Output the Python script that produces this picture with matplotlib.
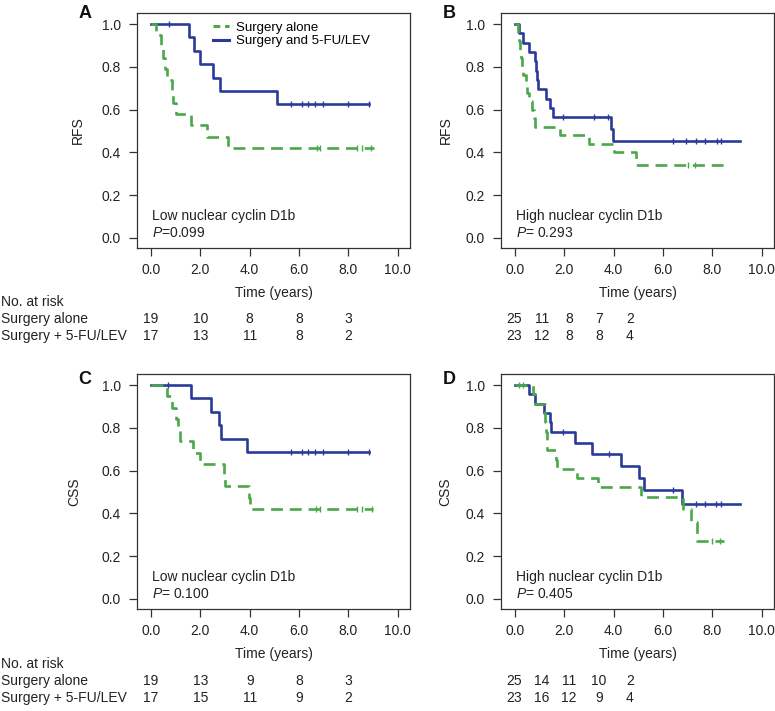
import numpy as np
import matplotlib
matplotlib.use("Agg")
import matplotlib.pyplot as plt
from matplotlib.lines import Line2D
from matplotlib.transforms import blended_transform_factory

plt.rcParams['font.family'] = ['Liberation Sans', 'DejaVu Sans']
plt.rcParams['mathtext.fontset'] = 'custom'
plt.rcParams['mathtext.it'] = 'Liberation Sans:italic'
plt.rcParams['mathtext.rm'] = 'Liberation Sans'

GREEN = '#4aa84a'
BLUE = '#2b3a98'
INK = '#222222'

# ---- Panel A: RFS, low nuclear cyclin D1b ----
a_alone_t = [0.2, 0.39, 0.5, 0.57, 0.65, 0.84, 0.9, 1.01, 1.61, 2.26, 3.14]
a_alone_s = [0.947, 0.895, 0.842, 0.789, 0.737, 0.684, 0.632, 0.579, 0.526, 0.474, 0.421]
a_alone_cens = [6.72, 6.86, 8.34, 8.55, 8.9]
a_alone_end = 9.02
a_combo_t = [1.55, 1.74, 2.0, 2.53, 2.8, 5.1]
a_combo_s = [0.938, 0.875, 0.813, 0.75, 0.688, 0.625]
a_combo_cens = [0.72, 5.67, 6.11, 6.38, 6.65, 6.99, 8.0, 8.82]
a_combo_end = 8.82

# ---- Panel B: RFS, high nuclear cyclin D1b ----
b_alone_t = [0.12, 0.17, 0.22, 0.26, 0.3, 0.34, 0.45, 0.5, 0.55, 0.7, 0.75, 0.8, 1.82, 3.0, 4.0, 4.92]
b_alone_s = [0.96, 0.92, 0.88, 0.84, 0.80, 0.76, 0.72, 0.68, 0.64, 0.60, 0.56, 0.52, 0.48, 0.44, 0.40, 0.343]
b_alone_cens = [7.0, 7.28]
b_alone_end = 8.47
b_combo_t = [0.15, 0.34, 0.56, 0.79, 0.84, 0.88, 0.93, 1.27, 1.41, 1.54, 3.9, 3.98]
b_combo_s = [0.957, 0.913, 0.870, 0.826, 0.783, 0.739, 0.696, 0.652, 0.609, 0.565, 0.509, 0.452]
b_combo_cens = [1.94, 3.22, 3.78, 6.4, 6.95, 7.35, 7.7, 8.17, 8.37]
b_combo_end = 9.12

# ---- Panel C: CSS, low nuclear cyclin D1b ----
c_alone_t = [0.66, 0.85, 1.01, 1.1, 1.18, 1.72, 2.0, 2.95, 2.99, 3.96, 4.0]
c_alone_s = [0.947, 0.895, 0.842, 0.789, 0.737, 0.684, 0.632, 0.579, 0.526, 0.474, 0.421]
c_alone_cens = [6.67, 6.87, 8.35, 8.55, 8.95]
c_alone_end = 9.0
c_combo_t = [1.62, 2.43, 2.76, 2.84, 3.91]
c_combo_s = [0.938, 0.875, 0.813, 0.75, 0.688]
c_combo_cens = [0.7, 5.67, 6.11, 6.38, 6.65, 6.99, 8.0, 8.84]
c_combo_end = 8.84

# ---- Panel D: CSS, high nuclear cyclin D1b ----
d_alone_t = [0.72, 0.8, 1.2, 1.22, 1.26, 1.28, 1.3, 1.67, 1.7, 2.5, 3.38, 5.12, 6.8, 7.15, 7.38]
d_alone_s = [0.957, 0.913, 0.870, 0.826, 0.783, 0.739, 0.696, 0.652, 0.609, 0.565, 0.522, 0.478, 0.42, 0.358, 0.27]
d_alone_cens = [0.14, 0.31, 8.0, 8.3]
d_alone_end = 8.46
d_combo_t = [0.58, 0.79, 1.17, 1.40, 1.47, 2.42, 3.12, 4.3, 5.02, 5.22, 6.75]
d_combo_s = [0.957, 0.913, 0.870, 0.826, 0.783, 0.73, 0.678, 0.62, 0.565, 0.51, 0.445]
d_combo_cens = [1.95, 3.8, 6.39, 7.35, 7.7, 8.15, 8.35]
d_combo_end = 9.12

# numbers at risk
risk_a = ([19, 10, 8, 8, 3], [17, 13, 11, 8, 2])
risk_b = ([25, 11, 8, 7, 2], [23, 12, 8, 8, 4])
risk_c = ([19, 13, 9, 8, 3], [17, 15, 11, 9, 2])
risk_d = ([25, 14, 11, 10, 2], [23, 16, 12, 9, 4])

xticks = [0, 2, 4, 6, 8, 10]
yticks = [0.0, 0.2, 0.4, 0.6, 0.8, 1.0]

W, H = 775, 711


def draw_km(ax, t, s, cens, end, color, dashed):
    t = np.asarray(t)
    s = np.asarray(s)
    x = np.r_[0, t, end]
    y = np.r_[1.0, s, s[-1]]
    ls = (0, (4.5, 2.6)) if dashed else '-'
    ax.step(x, y, where='post', color=color, lw=1.9, ls=ls, zorder=3 if dashed else 2)
    idx = np.searchsorted(t, cens, side='right')
    cy = np.where(idx == 0, 1.0, s[np.maximum(idx - 1, 0)])
    ax.plot(cens, cy, ls='none', marker='|', ms=4.5, mew=1.0, color=color,
            zorder=3 if dashed else 2)


def setup_axes(ax, ylabel, ylab_x):
    ax.set_xlim(-0.57, 10.5)
    ax.set_ylim(-0.047, 1.052)
    ax.set_xticks(xticks)
    ax.set_xticklabels([f"{v:.1f}" for v in xticks])
    ax.set_yticks(yticks)
    ax.set_yticklabels([f"{v:.1f}" for v in yticks])
    ax.tick_params(direction='out', length=6, width=0.9, colors='#333333',
                   labelsize=10, labelcolor=INK, pad=4.5)
    ax.tick_params(axis='y', pad=5.5)
    for sp in ax.spines.values():
        sp.set_color('#333333')
        sp.set_linewidth(0.9)
    ax.set_xlabel('Time (years)', fontsize=10, color=INK)
    ax.set_ylabel(ylabel, fontsize=10, color=INK)
    ax.xaxis.label.set_va('center')
    ax.xaxis.set_label_coords(0.5, -0.19)
    ax.yaxis.set_label_coords(ylab_x, 0.5)


fig = plt.figure(figsize=(W / 100, H / 100), dpi=100)
ax_w, ax_h = 273 / W, 235 / H
lefts = [137 / W, 501 / W]
bottoms = [1 - 248 / H, 1 - 609 / H]

panels = [
    ('A', 0, 0, 'RFS', -0.19, a_alone_t, a_alone_s, a_alone_cens, a_alone_end,
     a_combo_t, a_combo_s, a_combo_cens, a_combo_end,
     'Low nuclear cyclin D1b', '$P$=0.099', risk_a),
    ('B', 1, 0, 'RFS', -0.176, b_alone_t, b_alone_s, b_alone_cens, b_alone_end,
     b_combo_t, b_combo_s, b_combo_cens, b_combo_end,
     'High nuclear cyclin D1b', '$P$= 0.293', risk_b),
    ('C', 0, 1, 'CSS', -0.205, c_alone_t, c_alone_s, c_alone_cens, c_alone_end,
     c_combo_t, c_combo_s, c_combo_cens, c_combo_end,
     'Low nuclear cyclin D1b', '$P$= 0.100', risk_c),
    ('D', 1, 1, 'CSS', -0.18, d_alone_t, d_alone_s, d_alone_cens, d_alone_end,
     d_combo_t, d_combo_s, d_combo_cens, d_combo_end,
     'High nuclear cyclin D1b', '$P$= 0.405', risk_d),
]

letter_y = [13, 380]
row_y = [[302, 319, 336], [664, 681, 698]]
risk_x_right = [514, 542, 569, 599, 630]

for (letter, col, row, ylab, ylab_x, at, as_, ac, ae, ct, cs, cc, ce,
     group, ptxt, risk) in panels:
    ax = fig.add_axes([lefts[col], bottoms[row], ax_w, ax_h])
    draw_km(ax, ct, cs, cc, ce, BLUE, False)
    draw_km(ax, at, as_, ac, ae, GREEN, True)
    setup_axes(ax, ylab, ylab_x)
    ax.text(0.03, 0.103, group, fontsize=10, color=INK, va='center', ha='left')
    ax.text(0.03, 0.023, ptxt, fontsize=10, color=INK, va='center', ha='left')
    fig.text((lefts[col] * W - 52) / W, 1 - letter_y[row] / H, letter,
             fontsize=13, fontweight='bold', va='center', ha='center', color='#111111')

    if letter == 'A':
        handles = [Line2D([], [], color=GREEN, lw=2.2, ls=(0, (2.2, 1.6))),
                   Line2D([], [], color=BLUE, lw=2.2)]
        ax.legend(handles, ['Surgery alone', 'Surgery and 5-FU/LEV'],
                  loc='upper left', bbox_to_anchor=(0.278, 0.963), frameon=False,
                  fontsize=9.5, handlelength=1.25, handletextpad=0.5,
                  labelspacing=0.1, borderpad=0, borderaxespad=0)

    ry = row_y[row]
    if col == 0:
        fig.text(1 / W, 1 - ry[0] / H, 'No. at risk', fontsize=10, color=INK, va='center')
        fig.text(1 / W, 1 - ry[1] / H, 'Surgery alone', fontsize=10, color=INK, va='center')
        fig.text(1 / W, 1 - ry[2] / H, 'Surgery + 5-FU/LEV', fontsize=10, color=INK, va='center')
        tr = blended_transform_factory(ax.transData, fig.transFigure)
        for k, (n1, n2) in enumerate(zip(risk[0], risk[1])):
            ax.text(xticks[k], 1 - ry[1] / H, str(n1), transform=tr, fontsize=10,
                    color=INK, ha='center', va='center', clip_on=False)
            ax.text(xticks[k], 1 - ry[2] / H, str(n2), transform=tr, fontsize=10,
                    color=INK, ha='center', va='center', clip_on=False)
    else:
        for k, (n1, n2) in enumerate(zip(risk[0], risk[1])):
            fig.text(risk_x_right[k] / W, 1 - ry[1] / H, str(n1), fontsize=10,
                     color=INK, ha='center', va='center')
            fig.text(risk_x_right[k] / W, 1 - ry[2] / H, str(n2), fontsize=10,
                     color=INK, ha='center', va='center')

fig.savefig('out.png', dpi=100)
